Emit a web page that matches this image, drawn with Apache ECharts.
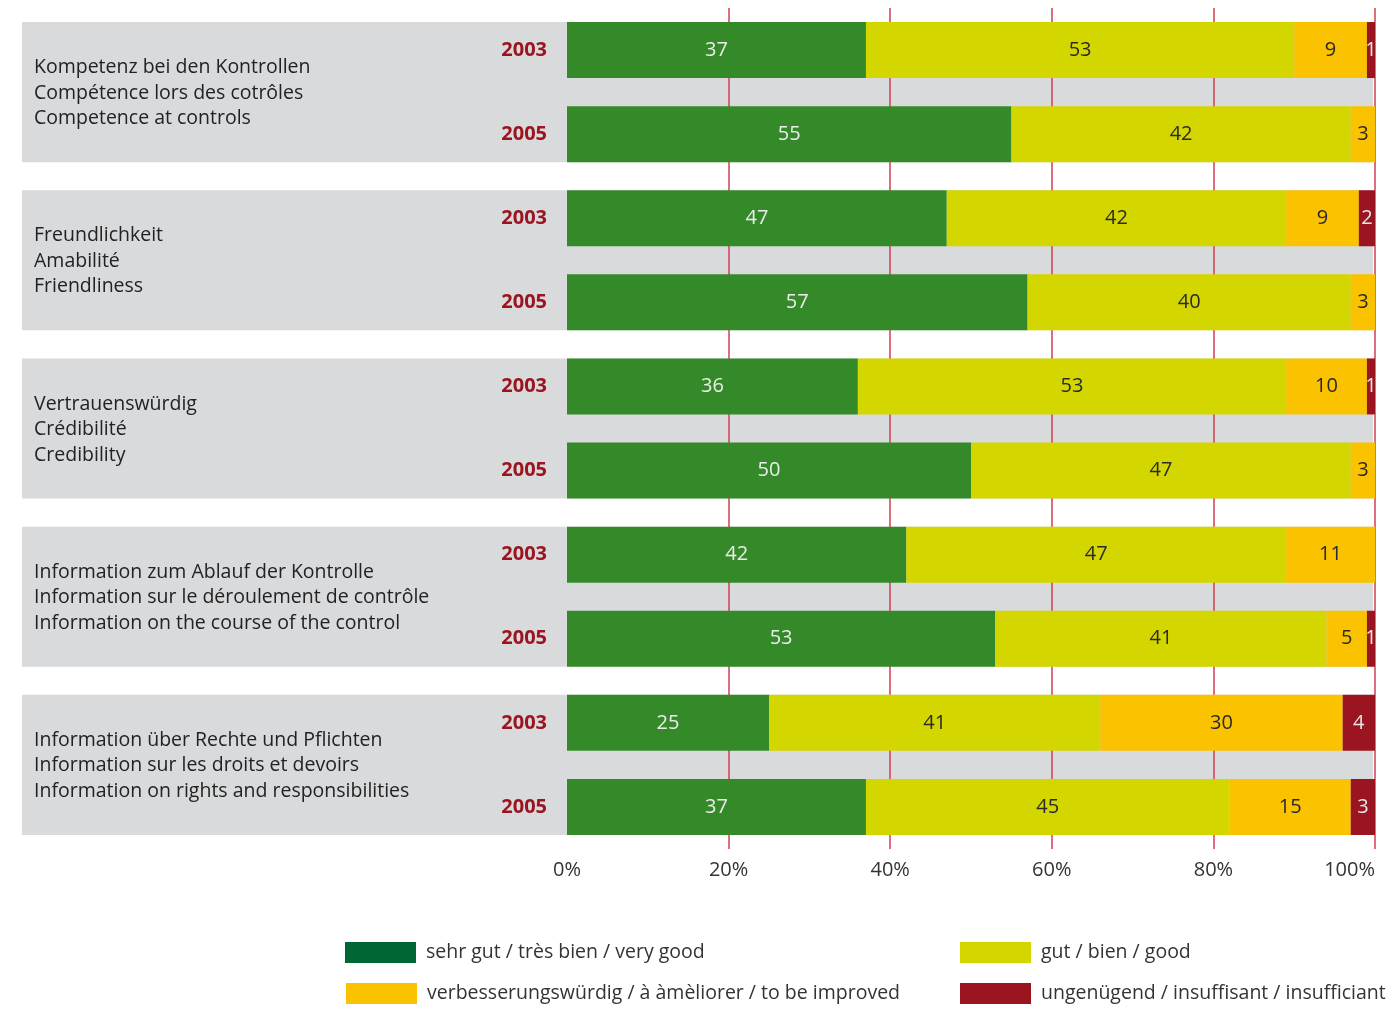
<!DOCTYPE html>
<html>
<head>
<meta charset="utf-8">
<title>Kontrollen – Beurteilung 2003 / 2005</title>
<script src="https://cdn.jsdelivr.net/npm/echarts@6/dist/echarts.min.js"></script>
<style>
  html, body { margin: 0; padding: 0; background: #ffffff; }
  #chart { width: 1389px; height: 1009px; }
</style>
</head>
<body>
<div id="chart"></div>
<script>
// Survey items (three languages each) and the two survey years
const topics = [
  ['Kompetenz bei den Kontrollen', 'Compétence lors des cotrôles', 'Competence at controls'],
  ['Freundlichkeit', 'Amabilité', 'Friendliness'],
  ['Vertrauenswürdig', 'Crédibilité', 'Credibility'],
  ['Information zum Ablauf der Kontrolle', 'Information sur le déroulement de contrôle', 'Information on the course of the control'],
  ['Information über Rechte und Pflichten', 'Information sur les droits et devoirs', 'Information on rights and responsibilities']
];
const years = ['2003', '2005'];

// Shares in percent, one entry per bar (topic × year, top to bottom)
const veryGood    = [37, 55, 47, 57, 36, 50, 42, 53, 25, 37];
const good        = [53, 42, 42, 40, 53, 47, 47, 41, 41, 45];
const toImprove   = [ 9,  3,  9,  3, 10,  3, 11,  5, 30, 15];
const insufficient= [ 1,  0,  2,  0,  1,  0,  0,  1,  4,  3];

const seriesNames = [
  'sehr gut / très bien / very good',
  'gut / bien / good',
  'verbesserungswürdig / à àmèliorer / to be improved',
  'ungenügend / insuffisant / insufficiant'
];
const xTicks = [0, 20, 40, 60, 80, 100];

// Category keys must be unique, the label shows only the year part
const categories = [];
topics.forEach((t, i) => years.forEach(y => categories.push(i + '|' + y)));

const FONT = '"Open Sans", "Noto Sans", sans-serif';
const BAR_W = 56;
const colors = ['#348a28', '#d4d600', '#fbc200', '#9b1520'];
const legendColors = ['#006633', '#d4d600', '#fbc200', '#9b1520'];
const labelColors = ['#ececec', '#2a2a2a', '#2a2a2a', '#e6e6e6'];
const values = [veryGood, good, toImprove, insufficient];

const barSeries = values.map((arr, k) => ({
  name: seriesNames[k],
  type: 'bar',
  stack: 'total',
  barWidth: BAR_W,
  z: 3,
  itemStyle: { color: colors[k] },
  label: {
    show: true,
    position: 'inside',
    color: labelColors[k],
    fontFamily: FONT,
    fontSize: 20,
    formatter: p => (p.value ? String(p.value) : '')
  },
  emphasis: { disabled: true },
  data: arr
}));

// Grey panel behind each topic pair, with the topic title on the left
const panelSeries = {
  type: 'custom',
  z: -5,
  silent: true,
  clip: false,
  encode: { x: 0, y: 1 },
  data: topics.map((t, i) => [0, i * 2, i * 2 + 1]),
  renderItem: function (params, api) {
    const i = params.dataIndex;
    const top = api.coord([0, api.value(1)])[1] - BAR_W / 2;
    const bottom = api.coord([0, api.value(2)])[1] + BAR_W / 2;
    const gridX = params.coordSys.x;
    const left = gridX - 545;
    const right = api.coord([100, 0])[0] - 2;
    return {
      type: 'group',
      children: [
        {
          type: 'rect',
          shape: { x: left, y: top, width: right - left, height: bottom - top },
          style: { fill: '#d9dadc' }
        },
        {
          type: 'text',
          style: {
            text: topics[i].join('\n'),
            x: left + 12,
            y: (top + bottom) / 2 + 1,
            verticalAlign: 'middle',
            align: 'left',
            fill: '#222222',
            fontFamily: FONT,
            fontSize: 19.5,
            lineHeight: 25.5
          }
        }
      ]
    };
  }
};

const chart = echarts.init(document.getElementById('chart'), null, { renderer: 'canvas' });

// One legend per entry so the two-column arrangement is explicit
const legendPos = [[345, 942], [960, 942], [346, 983], [960, 983]];
const legends = seriesNames.map((name, k) => ({
  left: legendPos[k][0],
  top: legendPos[k][1],
  itemWidth: 71,
  itemHeight: 21,
  icon: 'rect',
  selectedMode: false,
  padding: 0,
  textStyle: { fontFamily: FONT, fontSize: 19.5, color: '#333333', padding: [4, 0, 0, 5] },
  data: [{ name: name, itemStyle: { color: legendColors[k] } }]
}));

chart.setOption({
  animation: false,
  backgroundColor: '#ffffff',
  grid: { left: 567, right: 14, top: 8, bottom: 160, containLabel: false },
  xAxis: {
    type: 'value',
    min: xTicks[0],
    max: xTicks[xTicks.length - 1],
    interval: xTicks[1] - xTicks[0],
    axisLine: { show: false },
    axisTick: { show: false },
    splitLine: { show: true, showMinLine: false, lineStyle: { color: '#d23f50', width: 1.5 } },
    axisLabel: {
      formatter: '{value}%',
      color: '#333333',
      fontFamily: FONT,
      fontSize: 20,
      margin: 11,
      alignMaxLabel: 'right'
    }
  },
  yAxis: {
    type: 'category',
    inverse: true,
    data: categories,
    axisLine: { show: false },
    axisTick: { show: false },
    splitLine: { show: false },
    axisLabel: {
      formatter: v => v.split('|')[1],
      color: '#9b1520',
      fontFamily: FONT,
      fontWeight: 'bold',
      fontSize: 20,
      margin: 20
    }
  },
  legend: legends,
  series: [panelSeries].concat(barSeries)
});
</script>
</body>
</html>
